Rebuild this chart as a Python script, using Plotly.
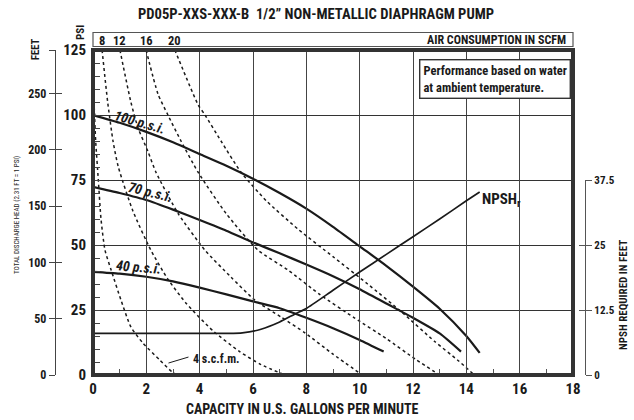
import plotly.graph_objects as go

# ---------------- data ----------------
title_text = "PD05P-XXS-XXX-B  1/2\u201d NON-METALLIC DIAPHRAGM PUMP"

x_ticks = [0, 2, 4, 6, 8, 10, 12, 14, 16, 18]
head_ticks = [0, 25, 50, 75, 100, 125]
outer_ticks = [0, 50, 100, 150, 200, 250]
npsh_ticks = [0, 12.5, 25, 37.5]

# discharge head curves (feet) vs capacity (gpm)
gpm_100 = [0, 1, 2, 3, 4, 5, 6, 7, 8, 9, 10, 11, 12, 13, 14, 14.5]
head_100 = [100, 97, 93.5, 89.5, 85, 80.5, 75.5, 70, 64, 57, 49.5, 42, 34, 25.5, 15, 8.5]

gpm_70 = [0, 1, 2, 3, 4, 5, 6, 7, 8, 9, 10, 11, 12, 13, 13.8]
head_70 = [72.4, 70, 67.3, 63.6, 59.6, 55.5, 51, 46.8, 42.5, 38, 33, 27.5, 22, 16, 9]

gpm_40 = [0, 1, 2, 3, 4, 5, 6, 7, 8, 9, 10, 10.9]
head_40 = [39.7, 39, 37.8, 36, 33.6, 31, 28.3, 25.7, 22, 18, 13.5, 9]

# NPSH required (feet) vs capacity
gpm_npsh = [0, 5, 5.6, 6.3, 7.0, 7.6, 8, 9, 10, 11, 12, 13, 14, 14.5]
npsh_req = [8, 8, 8.1, 8.8, 10.2, 11.8, 12.8, 16.3, 19.8, 23.2, 26.6, 30, 33.5, 35.2]

# air consumption curves (scfm)
gpm_4scfm = [0.02, 0.1, 0.2, 0.3, 0.45, 0.68, 1.05, 1.42, 1.87, 2.5, 2.96, 3.15]
head_4scfm = [110, 90, 75, 60, 48, 40.4, 28.8, 18.5, 12.3, 5.8, 1.2, 0]

gpm_8scfm = [0.34, 0.55, 0.75, 0.95, 1.5, 2.17, 2.8, 3.5, 4.5, 5.5, 6.3, 7.2]
head_8scfm = [125, 105, 90, 80, 63, 48, 37, 27.5, 17, 9, 4, 0]

gpm_12scfm = [1.01, 1.42, 1.69, 2.06, 2.36, 3.2, 4.2, 5.17, 6.07, 7.05, 7.95, 9.0, 10.1]
head_12scfm = [125, 105, 95, 86, 78, 62, 48, 37.7, 28.8, 22.3, 16.2, 8, 0]

gpm_16scfm = [1.99, 2.44, 2.81, 3.3, 3.94, 5.0, 6.19, 7.31, 8.5, 9.8, 11.0, 12.1, 13.0]
head_16scfm = [125, 108, 100, 90, 78, 62, 48, 40.4, 31, 22, 14, 6, 0]

gpm_20scfm = [3.07, 3.94, 4.2, 4.8, 5.55, 6.5, 7.7, 9.0, 10.3, 11.6, 12.8, 13.7, 14.3]
head_20scfm = [125, 104, 100, 90, 78, 67, 56, 45.5, 35, 24, 13, 5.5, 0]

scfm_top_labels = ["8", "12", "16", "20"]

# ---------------- layout helpers ----------------
W, H = 634, 420
ML, MR, MT, MB = 55, 49, 50, 45
PW, PH = W - ML - MR, H - MT - MB


def px(x):
    return (x - ML) / PW


def py(y):
    return (H - MB - y) / PH


FONT = "Roboto Condensed, Liberation Sans Narrow, Liberation Sans, Arial, sans-serif"
INK = "#1a1a1a"
OUTER_TOP = 125 * 2.31

fig = go.Figure()

solid = dict(color=INK, width=2.2, shape="spline", smoothing=0.6)
dashed = dict(color=INK, width=1.5, dash="3px,3px", shape="spline", smoothing=0.6)

for gx, hy in [(gpm_100, head_100), (gpm_70, head_70), (gpm_40, head_40)]:
    fig.add_trace(go.Scatter(x=gx, y=hy, mode="lines", line=solid,
                             showlegend=False, hoverinfo="skip"))

for gx, hy in [(gpm_4scfm, head_4scfm), (gpm_8scfm, head_8scfm), (gpm_12scfm, head_12scfm),
               (gpm_16scfm, head_16scfm), (gpm_20scfm, head_20scfm)]:
    fig.add_trace(go.Scatter(x=gx, y=hy, mode="lines", line=dashed,
                             showlegend=False, hoverinfo="skip"))

fig.add_trace(go.Scatter(x=gpm_npsh, y=npsh_req, yaxis="y3", mode="lines",
                         line=dict(color=INK, width=1.7, shape="spline", smoothing=0.6),
                         showlegend=False, hoverinfo="skip"))

# dummy traces so auxiliary axes are drawn
for ax in ["y4", "y5", "y6", "y7"]:
    fig.add_trace(go.Scatter(x=[None], y=[None], yaxis=ax, mode="lines",
                             showlegend=False, hoverinfo="skip"))

x0d, x1d = px(93), px(573)
CLEAR = "rgba(0,0,0,0)"

fig.update_layout(
    width=W, height=H,
    margin=dict(l=ML, r=MR, t=MT, b=MB, pad=0),
    paper_bgcolor="white", plot_bgcolor=CLEAR,
    font=dict(family=FONT, color=INK),
    xaxis=dict(domain=[x0d, x1d], range=[0, 18], tickvals=x_ticks,
               showgrid=True, gridcolor="#444", gridwidth=1.4,
               showline=True, linecolor="#333", linewidth=1, mirror=True,
               ticks="", zeroline=False,
               minor=dict(ticks="inside", dtick=1, ticklen=6, tickcolor="#555",
                          tickwidth=1, showgrid=False),
               tickfont=dict(size=15, family=FONT, weight="bold")),
    yaxis=dict(range=[0, 125], tickvals=head_ticks,
               showgrid=True, gridcolor="#333", gridwidth=1.4,
               showline=True, linecolor="#333", linewidth=1, mirror=True,
               ticks="", zeroline=False, ticklabelstandoff=3,
               minor=dict(ticks="inside", dtick=5, ticklen=7, tickcolor="#444",
                          tickwidth=1, showgrid=False),
               tickfont=dict(size=15, family=FONT, weight="bold")),
    yaxis3=dict(domain=[0, 37.5 / 62.5], range=[0, 37.5], anchor="free", position=1,
                side="right", tickvals=npsh_ticks, ticktext=["0", "12.5", "25", "37.5"],
                showgrid=False, zeroline=False, showline=True, linecolor="#555",
                linewidth=1.3, ticks="outside", ticklen=6, tickcolor="#555",
                tickfont=dict(size=11, family=FONT, weight="bold")),
    yaxis6=dict(domain=[0, 37.5 / 62.5], range=[0, 37.5], anchor="free", position=1,
                overlaying="y3", side="right", tickvals=npsh_ticks,
                showticklabels=False, showgrid=False, zeroline=False, showline=False,
                ticks="inside", ticklen=6, tickcolor="#555"),
    yaxis4=dict(range=[0, OUTER_TOP], anchor="free", position=0, overlaying="y",
                side="left", tickvals=outer_ticks,
                showgrid=False, zeroline=False, showline=True, linecolor="#444",
                linewidth=1.3, ticks="outside", ticklen=6, tickcolor="#444",
                tickfont=dict(size=12, family=FONT, weight="bold")),
    yaxis5=dict(range=[0, OUTER_TOP], anchor="free", position=0, overlaying="y",
                side="left", tickvals=outer_ticks + [OUTER_TOP],
                showticklabels=False, showgrid=False, zeroline=False, showline=False,
                ticks="inside", ticklen=6, tickcolor="#444"),
    yaxis7=dict(range=[0, OUTER_TOP], anchor="free", position=0, overlaying="y",
                side="left", tickvals=[OUTER_TOP],
                showticklabels=False, showgrid=False, zeroline=False, showline=False,
                ticks="outside", ticklen=6, tickcolor="#444"),
)

ann = []


def paper_text(x, y, text, size, angle=0, xanchor="center", yanchor="middle", bold=True,
               color=INK):
    ann.append(dict(x=px(x), y=py(y), xref="paper", yref="paper", text=text,
                    showarrow=False, textangle=angle, xanchor=xanchor, yanchor=yanchor,
                    font=dict(size=size, family=FONT, color=color,
                              weight="bold" if bold else "normal")))


paper_text(316, 14, title_text, 14.6)
paper_text(302, 409, "CAPACITY IN U.S. GALLONS PER MINUTE", 14)
paper_text(623, 295, "NPSH REQUIRED IN FEET", 11, angle=-90)
paper_text(17, 215, "TOTAL DISCHARGE HEAD (2.31 FT = 1 PSI)", 7, angle=-90, bold=False)
paper_text(35, 50, "FEET", 10.5, angle=-90)
paper_text(81, 33, "PSI", 11, angle=-90)
paper_text(568, 40, "AIR CONSUMPTION IN SCFM", 12, xanchor="right")

# scfm labels at the top, placed at the top of each air curve
for lab, gx in zip(scfm_top_labels, [gpm_8scfm, gpm_12scfm, gpm_16scfm, gpm_20scfm]):
    ann.append(dict(x=gx[0], y=py(40), xref="x", yref="paper", text=lab, showarrow=False,
                    xanchor="center", yanchor="middle",
                    font=dict(size=12.5, family=FONT, color=INK, weight="bold")))

# note box
ann.append(dict(x=px(419), y=py(59), xref="paper", yref="paper",
                text="Performance based on water<br>at ambient temperature.",
                showarrow=False, xanchor="left", yanchor="top", align="left",
                bordercolor="#333", borderwidth=1.4, borderpad=3, bgcolor="white",
                font=dict(size=12.5, family=FONT, color=INK, weight="bold")))


# curve labels (data coordinates)
def curve_label(x, y, text, angle):
    ann.append(dict(x=x, y=y, xref="x", yref="y", text=text, showarrow=False,
                    textangle=angle, xanchor="center", yanchor="middle",
                    font=dict(size=14, family=FONT, color=INK, weight="bold",
                              style="italic")))


curve_label(1.76, 97.5, "100 p.s.i.", 16)
curve_label(2.15, 70.5, "70 p.s.i.", 14)
curve_label(1.7, 41.5, "40 p.s.i.", 5)

ann.append(dict(x=3.68, y=6.1, xref="x", yref="y", text="4 s.c.f.m.", showarrow=False,
                xanchor="left", yanchor="middle",
                font=dict(size=12, family=FONT, color=INK, weight="bold")))
ann.append(dict(x=14.5, y=67.5, xref="x", yref="y", text="NPSH<sub>r</sub>",
                showarrow=False, xanchor="left", yanchor="middle",
                font=dict(size=15, family=FONT, color=INK, weight="bold")))

fig.update_layout(annotations=ann)

shapes = [
    # thick frame around the plotting area
    dict(type="rect", xref="x domain", yref="y domain", x0=0, x1=1, y0=0, y1=1,
         line=dict(color="#333", width=4), fillcolor="rgba(0,0,0,0)", layer="above"),
    # air consumption header box
    dict(type="rect", xref="paper", yref="paper", x0=px(93), x1=px(573), y0=py(46.5),
         y1=py(32.5), line=dict(color="#555", width=1.2), fillcolor="rgba(0,0,0,0)"),
    # leader line for 4 scfm
    dict(type="line", xref="x", yref="y", x0=2.83, y0=4.6, x1=3.58, y1=6.9,
         line=dict(color=INK, width=1)),
]
fig.update_layout(shapes=shapes)

fig.write_html("out.html", config={"displayModeBar": False},
               post_script="document.body.style.margin='0';")
